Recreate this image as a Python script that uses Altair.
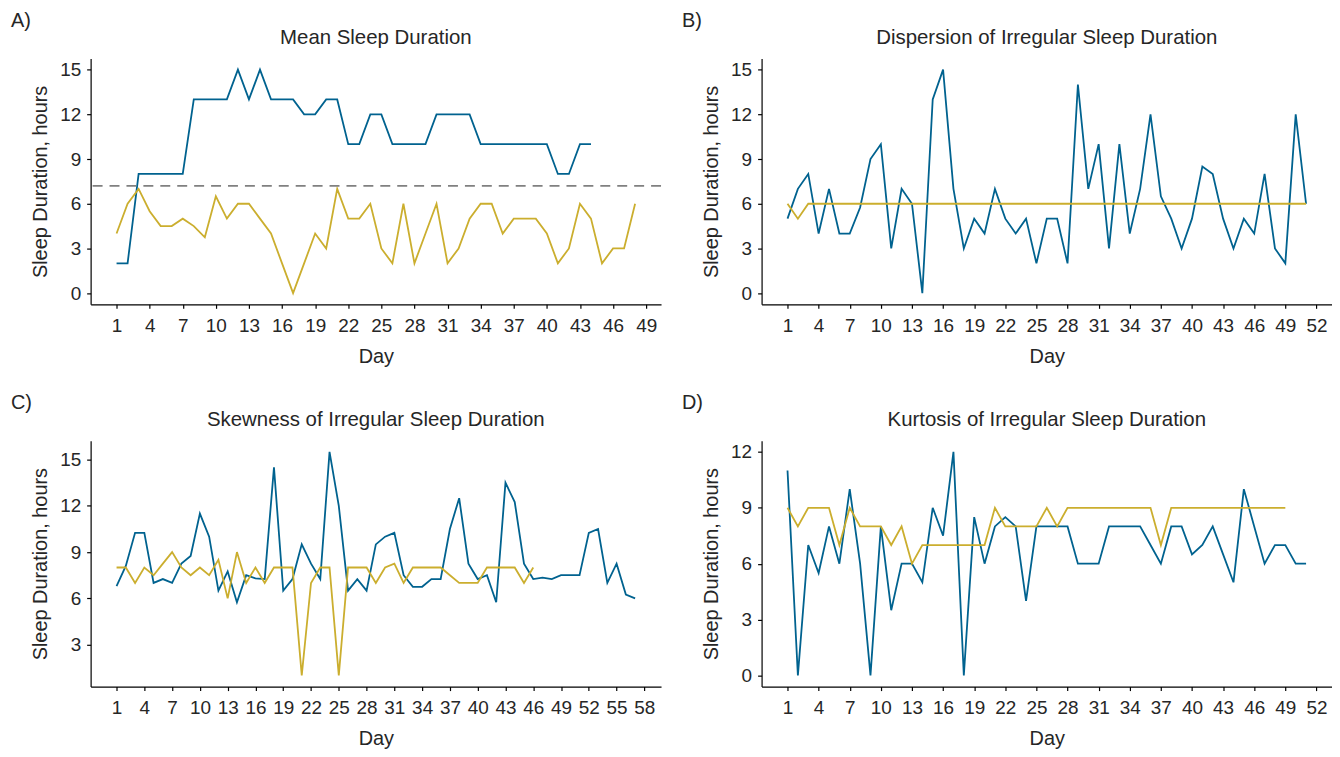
import altair as alt
import pandas as pd

BLUE = "#00628F"
YELLOW = "#CBAE2E"
TEXT = "#262626"
FONT = "Liberation Sans"

# ---- data ----
a_blue = [2, 2, 8, 8, 8, 8, 8, 13, 13, 13, 13, 15, 13, 15, 13, 13, 13, 12, 12, 13, 13, 10, 10, 12, 12,
          10, 10, 10, 10, 12, 12, 12, 12, 10, 10, 10, 10, 10, 10, 10, 8, 8, 10, 10]
a_yellow = [4, 6, 7, 5.5, 4.5, 4.5, 5, 4.5, 3.75, 6.5, 5, 6, 6, 5, 4, 2, 0, 2, 4, 3, 7, 5, 5, 6, 3,
            2, 6, 2, 4, 6, 2, 3, 5, 6, 6, 4, 5, 5, 5, 4, 2, 3, 6, 5, 2, 3, 3, 6]
a_reference = 7.2

b_blue = [5, 7, 8, 4, 7, 4, 4, 5.75, 9, 10, 3, 7, 6, 0, 13, 15, 7, 3, 5, 4, 7, 5, 4, 5, 2,
          5, 5, 2, 14, 7, 10, 3, 10, 4, 7, 12, 6.5, 5, 3, 5, 8.5, 8, 5, 3, 5, 4, 8, 3, 2, 12, 6]
b_yellow = [6, 5] + [6] * 49

c_blue = [6.8, 8.1, 10.25, 10.25, 7, 7.25, 7, 8.25, 8.75, 11.5, 10, 6.5, 7.75, 5.75, 7.5, 7.3, 7.25,
          14.5, 6.5, 7.25, 9.5, 8.25, 7.25, 15.5, 12, 6.5, 7.25, 6.5, 9.5, 10, 10.25, 7.5, 6.75, 6.75,
          7.25, 7.25, 10.5, 12.5, 8.25, 7.25, 7.5, 5.75, 13.5, 12.25, 8.25, 7.25, 7.35, 7.25, 7.5, 7.5,
          7.5, 10.25, 10.5, 7, 8.25, 6.25, 6]
c_yellow = [8, 8, 7, 8, 7.5, 8.25, 9, 8, 7.5, 8, 7.5, 8.5, 6, 9, 7, 8, 7, 8, 8, 8, 1, 7, 8, 8, 1,
            8, 8, 8, 7, 8, 8.25, 7, 8, 8, 8, 8, 7.5, 7, 7, 7, 8, 8, 8, 8, 7, 8]

d_blue = [11, 0, 7, 5.5, 8, 6, 10, 6, 0, 8, 3.5, 6, 6, 5, 9, 7.5, 12, 0, 8.5, 6, 8, 8.5, 8, 4, 8,
          8, 8, 8, 6, 6, 6, 8, 8, 8, 8, 7, 6, 8, 8, 6.5, 7, 8, 6.5, 5, 10, 8, 6, 7, 7, 6, 6]
d_yellow = [9, 8, 9, 9, 9, 7, 9, 8, 8, 8, 7, 8, 6, 7, 7, 7, 7, 7, 7, 7, 9, 8, 8, 8, 8,
            9, 8, 9, 9, 9, 9, 9, 9, 9, 9, 9, 7] + [9] * 12

letters = ["A)", "B)", "C)", "D)"]
titles = ["Mean Sleep Duration", "Dispersion of Irregular Sleep Duration",
          "Skewness of Irregular Sleep Duration", "Kurtosis of Irregular Sleep Duration"]
x_ticks_a = list(range(1, 50, 3))
x_ticks_b = list(range(1, 53, 3))
x_ticks_c = list(range(1, 59, 3))
x_ticks_d = list(range(1, 53, 3))
y_ticks_15 = [0, 3, 6, 9, 12, 15]
y_ticks_c = [3, 6, 9, 12, 15]
y_ticks_d = [0, 3, 6, 9, 12]

W = 573
H = 247


def frame(values):
    return pd.DataFrame({"day": list(range(1, len(values) + 1)), "value": values})


def padded(lo, hi):
    p = 0.05 * (hi - lo)
    return [lo - p, hi + p]


def panel(letter, title, blue, yellow, xticks, yticks, ref=None):
    n = max(len(blue), len(yellow))
    allv = blue + yellow + ([ref] if ref is not None else [])
    x = alt.X("day:Q", scale=alt.Scale(domain=padded(1, n), nice=False, zero=False),
              axis=alt.Axis(values=xticks, title="Day"))
    y = alt.Y("value:Q", scale=alt.Scale(domain=padded(min(allv), max(allv)), nice=False, zero=False),
              axis=alt.Axis(values=yticks, title="Sleep Duration, hours"))
    layers = [
        alt.Chart(frame(blue)).mark_line(color=BLUE, strokeWidth=1.8).encode(x=x, y=y),
        alt.Chart(frame(yellow)).mark_line(color=YELLOW, strokeWidth=1.8).encode(x=x, y=y),
    ]
    if ref is not None:
        layers.append(
            alt.Chart(pd.DataFrame({"value": [ref]}))
            .mark_rule(color="#808080", strokeDash=[10, 7], strokeWidth=1.6)
            .encode(y=y)
        )
    layers.append(
        alt.Chart(pd.DataFrame({"t": [letter]}))
        .mark_text(align="left", baseline="alphabetic", fontSize=20, font=FONT, color=TEXT)
        .encode(text="t:N", x=alt.value(-80), y=alt.value(-32))
    )
    layers.append(
        alt.Chart(pd.DataFrame({"t": [title]}))
        .mark_text(align="center", baseline="alphabetic", fontSize=20.5, font=FONT, color=TEXT)
        .encode(text="t:N", x=alt.value(W / 2), y=alt.value(-15))
    )
    return alt.layer(*layers).properties(width=W, height=H)


pa = panel(letters[0], titles[0], a_blue, a_yellow, x_ticks_a, y_ticks_15, a_reference)
pb = panel(letters[1], titles[1], b_blue, b_yellow, x_ticks_b, y_ticks_15)
pc = panel(letters[2], titles[2], c_blue, c_yellow, x_ticks_c, y_ticks_c)
pd_ = panel(letters[3], titles[3], d_blue, d_yellow, x_ticks_d, y_ticks_d)

chart = (
    alt.concat(pa, pb, pc, pd_, columns=2, spacing={"row": 137, "column": 101}, bounds="flush")
    .properties(padding={"left": 3, "top": 1, "right": 0, "bottom": 0}, background="white")
    .configure_view(stroke=None)
    .configure_axis(
        grid=False,
        domainColor="#000000",
        domainWidth=1.2,
        tickColor="#000000",
        tickWidth=1.2,
        tickSize=4,
        labelFont=FONT,
        labelFontSize=19,
        labelColor=TEXT,
        titleFont=FONT,
        titleFontSize=20,
        titleFontWeight="normal",
        titleColor=TEXT,
    )
    .configure_axisX(labelPadding=8, titlePadding=11, labelFlush=False, labelOverlap=False)
    .configure_axisY(labelPadding=6, titlePadding=9, labelOverlap=False)
)

chart.save("out.html", embed_options={"renderer": "svg", "actions": False})
